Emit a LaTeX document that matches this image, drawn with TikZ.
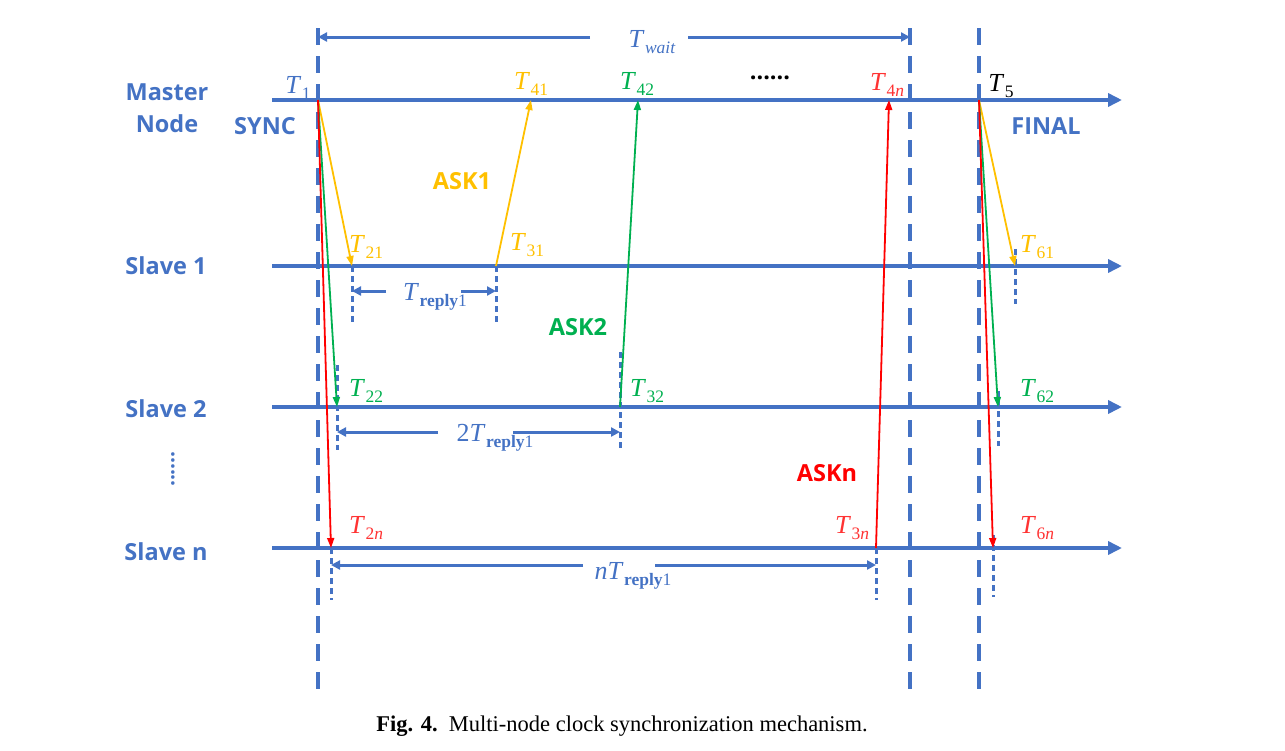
\documentclass[tikz,border=0pt]{standalone}
\usepackage{fontspec}
\setsansfont{Open Sans}
\setmainfont{Liberation Serif}
\usetikzlibrary{arrows.meta}
\definecolor{bl}{HTML}{4472C4}
\definecolor{yl}{HTML}{FFC000}
\definecolor{gr}{HTML}{00B050}
\definecolor{rd}{HTML}{FF0000}
\definecolor{rdl}{HTML}{FF3333}
\newcommand\Tl[2]{\textit{T}\kern0.5pt\raisebox{-0.25em}{\fontsize{17.5}{17.5}\selectfont #2}}
\tikzset{
  axis/.style={bl, line width=4pt, -{Triangle[length=14pt,width=13pt]}},
  vdash/.style={bl, line width=4pt, dash pattern=on 17pt off 11pt},
  tick/.style={bl, line width=3pt, dash pattern=on 6pt off 4pt},
  dimarrow/.style={bl, line width=3pt, -{Triangle[length=9pt,width=9pt]}},
  msg/.style={line width=1.8pt, -{Triangle[length=10pt,width=7pt]}},
  lab/.style={font=\sffamily\bfseries\fontsize{23.5}{27}\selectfont, text=bl, inner sep=0pt},
  ask/.style={font=\sffamily\bfseries\fontsize{23.5}{27}\selectfont, inner sep=0pt},
  tl/.style={font=\fontsize{26}{30}\selectfont, inner sep=0pt},
}
\begin{document}
\begin{tikzpicture}[x=1pt,y=-1pt]
\useasboundingbox (0,0) rectangle (1285,750);
% axes
\coordinate (M0) at (272,100); \coordinate (M1) at (1122,100);
\coordinate (A0) at (272,266); \coordinate (A1) at (1122,266);
\coordinate (B0) at (272,407); \coordinate (B1) at (1122,407);
\coordinate (C0) at (272,548); \coordinate (C1) at (1122,548);
\draw[axis] (M0) -- (M1);
\draw[axis] (A0) -- (A1);
\draw[axis] (B0) -- (B1);
\draw[axis] (C0) -- (C1);
% vertical dashed lines
\coordinate (V1t) at (318,28); \coordinate (V1b) at (318,690);
\coordinate (V2t) at (910,28); \coordinate (V2b) at (910,690);
\coordinate (V3t) at (979,28); \coordinate (V3b) at (979,690);
\draw[vdash] (V1t) -- (V1b);
\draw[vdash] (V2t) -- (V2b);
\draw[vdash] (V3t) -- (V3b);
% event points
\coordinate (t1) at (318,100);
\coordinate (t21) at (352,266); \coordinate (t31) at (496,266); \coordinate (t41) at (531,100);
\coordinate (t22) at (337,407); \coordinate (t32) at (620,407); \coordinate (t42) at (638,100);
\coordinate (t2n) at (331,548); \coordinate (t3n) at (876,548); \coordinate (t4n) at (889,100);
\coordinate (t5) at (979,100);
\coordinate (t61) at (1015,266); \coordinate (t62) at (998,407); \coordinate (t6n) at (993,548);
% ticks
\coordinate (k21a) at (352,266); \coordinate (k21b) at (352,322);
\coordinate (k31a) at (496,266); \coordinate (k31b) at (496,322);
\coordinate (k22a) at (337,365); \coordinate (k22b) at (337,450);
\coordinate (k32a) at (620,352); \coordinate (k32b) at (620,450);
\coordinate (k2na) at (331,548); \coordinate (k2nb) at (331,600);
\coordinate (k3na) at (876,548); \coordinate (k3nb) at (876,600);
\coordinate (k61a) at (1015,249); \coordinate (k61b) at (1015,304);
\coordinate (k62a) at (998,391); \coordinate (k62b) at (998,446);
\coordinate (k6na) at (993,535); \coordinate (k6nb) at (993,597);
\foreach \k in {21,31,22,32,2n,3n,61,62,6n} \draw[tick] (k\k a) -- (k\k b);
% messages
\draw[msg, yl] (t1) -- (t21);
\draw[msg, yl] (t31) -- (t41);
\draw[msg, gr] (t1) -- (t22);
\draw[msg, gr] (t32) -- (t42);
\draw[msg, rd] (t1) -- (t2n);
\draw[msg, rd] (t3n) -- (t4n);
\draw[msg, yl] (t5) -- (t61);
\draw[msg, gr] (t5) -- (t62);
\draw[msg, rd] (t5) -- (t6n);
% Twait
\node[tl, text=bl] (tw) at (652,42) {\Tl{T}{\textit{wait}}};
\coordinate (w1) at (590,37); \coordinate (w2) at (688,37);
\coordinate (wl) at (318,37); \coordinate (wr) at (910,37);
\draw[dimarrow] (w1) -- (wl);
\draw[dimarrow] (w2) -- (wr);
% Treply
\node[tl, text=bl] (r1) at (435,297) {\Tl{T}{\textbf{reply}1}};
\coordinate (r1a) at (386,291); \coordinate (r1b) at (461,291);
\draw[dimarrow] (r1a) -- (k21a |- r1a);
\draw[dimarrow] (r1b) -- (k31a |- r1b);
\node[tl, text=bl] (r2) at (495,438) {2\Tl{T}{\textbf{reply}1}};
\coordinate (r2a) at (438,432); \coordinate (r2b) at (513,432);
\draw[dimarrow] (r2a) -- (k22a |- r2a);
\draw[dimarrow] (r2b) -- (k32a |- r2b);
\node[tl, text=bl] (rn) at (633,576) {\textit{n}\Tl{T}{\textbf{reply}1}};
\coordinate (rna) at (583,565); \coordinate (rnb) at (655,565);
\draw[dimarrow] (rna) -- (k2na |- rna);
\draw[dimarrow] (rnb) -- (k3na |- rnb);
% left labels
\node[lab] (lm1) at (167,92) {Master};
\node[lab] (lm2) at (167,124) {Node};
\node[lab] (sync) at (265,126) {SYNC};
\node[lab] (fin) at (1046,126) {FINAL};
\node[lab] (ls1) at (166,266) {Slave 1};
\node[lab] (ls2) at (166,409) {Slave 2};
\node[lab] (lsn) at (166,552) {Slave n};
\node[bl, font=\sffamily\bfseries\fontsize{21}{24}\selectfont, rotate=90, inner sep=0pt] (vdots) at (173,469) {......};
% time labels
\node[tl, text=bl] (T1) at (298,88) {\Tl{T}{1}};
\node[tl, text=yl] (T41) at (531,84) {\Tl{T}{41}};
\node[tl, text=gr] (T42) at (637,84) {\Tl{T}{42}};
\node[ask, text=black] (dots) at (770,78) {......};
\node[tl, text=rdl] (T4n) at (887,85) {\Tl{T}{4\textit{n}}};
\node[tl, text=black] (T5) at (1001,86) {\Tl{T}{5}};
\node[tl, text=yl] (T21) at (366,247) {\Tl{T}{21}};
\node[tl, text=yl] (T31) at (527,245) {\Tl{T}{31}};
\node[tl, text=yl] (T61) at (1037,247) {\Tl{T}{61}};
\node[tl, text=gr] (T22) at (366,391) {\Tl{T}{22}};
\node[tl, text=gr] (T32) at (647,391) {\Tl{T}{32}};
\node[tl, text=gr] (T62) at (1037,391) {\Tl{T}{62}};
\node[tl, text=rdl] (T2n) at (366,528) {\Tl{T}{2\textit{n}}};
\node[tl, text=rdl] (T3n) at (852,528) {\Tl{T}{3\textit{n}}};
\node[tl, text=rdl] (T6n) at (1037,528) {\Tl{T}{6\textit{n}}};
% ASK labels
\node[ask, text=yl] (ask1) at (462,181) {ASK1};
\node[ask, text=gr] (ask2) at (578,327) {ASK2};
\node[ask, text=rd] (askn) at (827,473) {ASKn};
% caption
\node[font=\fontsize{22.5}{26}\selectfont, inner sep=0pt] (cap) at (622,726) {\textbf{Fig. 4.}\enspace Multi-node clock synchronization mechanism.};
\end{tikzpicture}
\end{document}
